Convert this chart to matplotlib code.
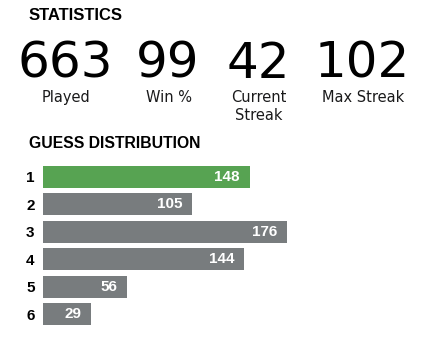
import numpy as np
import matplotlib
matplotlib.use("Agg")
import matplotlib.pyplot as plt

# header stats
stat_values = ["663", "99", "42", "102"]
stat_labels = ["Played", "Win %", "Current\nStreak", "Max Streak"]

# guess distribution
guesses = ["1", "2", "3", "4", "5", "6"]
counts = [148, 105, 176, 144, 56, 29]
highlight = 0

W, H = 436, 351
fig = plt.figure(figsize=(W / 100, H / 100), dpi=100)
fig.patch.set_facecolor("white")

def fx(px):
    return px / W

def fy(py):
    return 1 - py / H

fig.text(fx(29), fy(15), "STATISTICS", family="Liberation Sans", fontweight="bold",
         fontsize=12, ha="left", va="center")

col_x = [65, 168, 258, 362]
for x, v, lab in zip(col_x, stat_values, stat_labels):
    fig.text(fx(x), fy(78), v, family="DejaVu Sans", fontsize=36,
             ha="center", va="baseline")
    fig.text(fx(x + 1), fy(90), lab, family="DejaVu Sans", fontsize=10.5,
             ha="center", va="top", linespacing=1.25, color="#1a1a1b")

fig.text(fx(29), fy(143), "GUESS DISTRIBUTION", family="Liberation Sans",
         fontweight="bold", fontsize=11.3, ha="left", va="center")

# bars axes
left_px, right_px = 43, 287
top_px, bot_px = 163, 328
ax = fig.add_axes([fx(left_px), fy(bot_px), (right_px - left_px) / W, (bot_px - top_px) / H])
base = -7
y = np.arange(1, len(counts) + 1)
colors = ["#57a352" if i == highlight else "#787c7e" for i in range(len(counts))]
ax.barh(y, np.array(counts) - base, left=base, height=0.8, color=colors)
for yi, c in zip(y, counts):
    ax.annotate(str(c), (c, yi), xytext=(-7, 0), textcoords="offset points",
                ha="right", va="center", color="white", fontweight="bold",
                family="Liberation Sans", fontsize=11)
ax.set_xlim(base, max(counts))
ax.set_ylim(len(counts) + 0.5, 0.5)
ax.set_yticks(y)
ax.set_yticklabels(guesses, family="Liberation Sans", fontweight="bold", fontsize=11)
ax.tick_params(axis="y", length=0, pad=6)
ax.set_xticks([])
for s in ax.spines.values():
    s.set_visible(False)

fig.savefig("out.png", dpi=100, facecolor="white")
